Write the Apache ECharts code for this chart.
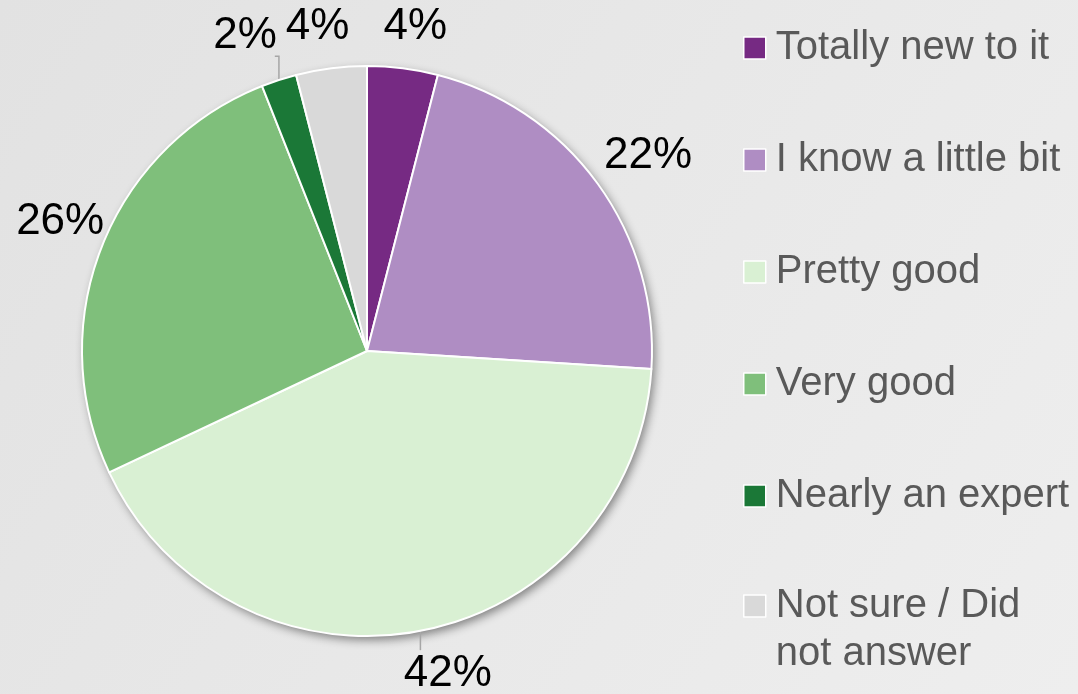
<!DOCTYPE html>
<html lang="en">
<head>
    <meta charset="UTF-8">
    <title>Knowledge level</title>
    <script src="https://cdn.jsdelivr.net/npm/echarts@6/dist/echarts.min.js"></script>
    <style>
        html, body { margin: 0; padding: 0; }
        #chart { width: 1078px; height: 694px; }
    </style>
</head>
<body>
    <div id="chart"></div>
    <script>
        // data
        var categories = ['Totally new to it', 'I know a little bit', 'Pretty good', 'Very good', 'Nearly an expert', 'Not sure / Did not answer'];
        var shares = [4, 22, 42, 26, 2, 4];
        var colors = ['#762a83', '#af8dc3', '#d9f0d3', '#7fbf7b', '#1b7837', '#d9d9d9'];

        var FONT = '"Liberation Sans", Arial, sans-serif';
        var CX = 367, CY = 351, R = 285;
        // small nudges so the labels sit like the original
        var labelShift = [[7, 3], [14, -1], [19, -1], [0, -8], [-20, -1], [-8, 3]];
        var total = shares.reduce(function (s, v) { return s + v; }, 0);

        var chart = echarts.init(document.getElementById('chart'));

        var pieData = categories.map(function (name, i) {
            var d = { name: name, value: shares[i], itemStyle: { color: colors[i] } };
            if (i === 2 || i === 4) d.labelLine = { show: true };
            return d;
        });

        var legendCommon = {
            orient: 'vertical',
            left: 743,
            padding: 0,
            icon: 'rect',
            itemWidth: 22,
            itemHeight: 22,
            itemGap: 64,
            itemStyle: { borderColor: '#fff', borderWidth: 1.5, shadowBlur: 0, shadowColor: 'transparent' },
            selectedMode: false,
            textStyle: { fontSize: 40, lineHeight: 48, color: '#595959', fontFamily: FONT, padding: [0, 0, 0, 5] }
        };

        var option = {
            backgroundColor: new echarts.graphic.LinearGradient(0, 0, 1, 1, [
                { offset: 0, color: '#e2e2e2' },
                { offset: 1, color: '#eeeeee' }
            ]),
            animation: false,
            legend: [
                Object.assign({}, legendCommon, {
                    top: 24,
                    data: categories.slice(0, 5)
                }),
                Object.assign({}, legendCommon, {
                    top: 534,
                    data: categories.slice(5),
                    // blank first line keeps "Not sure / Did" level with the square
                    formatter: function (name) { return '\n' + name.replace(' Did ', ' Did\n'); }
                })
            ],
            series: [
                {
                    // plain disc underneath that carries the drop shadow
                    name: 'disc',
                    type: 'pie',
                    z: 1,
                    silent: true,
                    center: [CX, CY],
                    radius: R,
                    label: { show: false },
                    labelLine: { show: false },
                    itemStyle: {
                        color: '#d9f0d3',
                        shadowBlur: 10,
                        shadowOffsetX: 3,
                        shadowOffsetY: 4,
                        shadowColor: 'rgba(0,0,0,0.45)'
                    },
                    data: [{ name: 'disc', value: total }]
                },
                {
                    name: 'Knowledge',
                    type: 'pie',
                    z: 2,
                    center: [CX, CY],
                    radius: R,
                    startAngle: 90,
                    clockwise: true,
                    avoidLabelOverlap: false,
                    emphasis: { scale: false },
                    itemStyle: { borderColor: '#ffffff', borderWidth: 2 },
                    label: {
                        show: true,
                        position: 'outside',
                        formatter: function (p) { return p.value + '%'; },
                        fontSize: 44,
                        color: '#000000',
                        fontFamily: FONT
                    },
                    labelLine: {
                        show: false,
                        lineStyle: { color: '#a6a6a6', width: 1.5 }
                    },
                    labelLayout: function (p) {
                        var i = p.dataIndex;
                        var before = 0;
                        for (var k = 0; k < i; k++) before += shares[k];
                        var a = (before + shares[i] / 2) / total * 2 * Math.PI;
                        var sx = Math.sin(a), cy = Math.cos(a);
                        var x = CX + (R + 45) * sx + labelShift[i][0];
                        var y = CY - (R + 45) * cy + labelShift[i][1];
                        var w = p.labelRect.width;
                        var ex = CX + R * sx, ey = CY - R * cy;
                        var res = { x: x, y: y, align: 'center', verticalAlign: 'middle' };
                        if (i === 4) {
                            res.labelLinePoints = [[ex, ey], [ex, y + 20], [x + w / 2 - 2, y + 20]];
                        } else if (i === 2) {
                            res.labelLinePoints = [[ex, ey], [ex, y - 24], [ex, y - 24]];
                        }
                        return res;
                    },
                    data: pieData
                }
            ]
        };
        chart.setOption(option);
    </script>
</body>
</html>
